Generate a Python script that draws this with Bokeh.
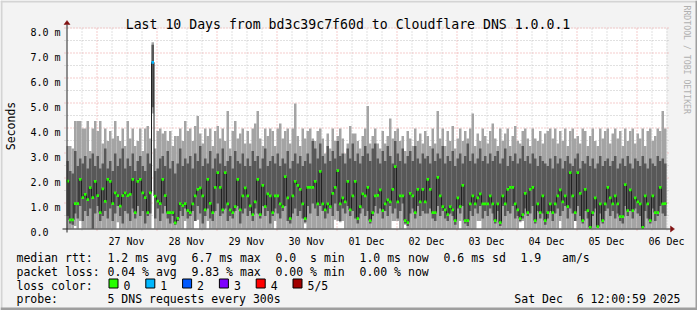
import math
from bokeh.plotting import figure
from bokeh.models import Range1d
from bokeh.core.properties import value
from bokeh.embed import file_html
from bokeh.resources import INLINE

# ---------------- data (hours since 26 Nov 12:00, 1 h steps) ----------------
median = [
    1.90, 0.35, 0.35, 1.00, 1.00, 1.97, 1.24, 1.37, 1.16, 1.64, 1.24, 1.89, 1.32, 0.64, 1.59, 1.09, 1.97, 1.89, 1.00, 1.43, 1.32, 0.90, 1.32, 1.43,
    1.32, 1.37, 1.97, 0.64, 1.89, 1.97, 1.43, 1.24, 0.64, 1.43, 6.65, 1.30, 1.10, 1.00, 1.97, 1.32, 0.64, 0.64, 0.64, 0.23, 0.41, 1.00, 0.92, 1.00,
    0.72, 0.64, 0.99, 1.31, 1.57, 1.63, 1.31, 0.75, 1.97, 1.01, 0.64, 1.65, 2.24, 1.65, 0.75, 2.24, 0.99, 0.75, 0.64, 0.88, 1.97, 0.75, 1.31, 1.63,
    1.31, 0.91, 0.56, 1.07, 1.97, 0.56, 1.73, 0.88, 1.39, 1.31, 0.64, 1.31, 1.31, 0.99, 0.88, 2.08, 1.23, 0.40, 1.31, 1.89, 1.73, 1.57, 0.99, 0.40,
    1.65, 1.65, 1.65, 1.89, 0.99, 2.29, 0.99, 0.75, 0.99, 0.88, 1.41, 1.65, 2.32, 0.99, 1.23, 1.07, 1.89, 0.75, 1.31, 1.89, 0.40, 0.88, 1.39, 1.31,
    1.65, 0.32, 0.64, 1.31, 1.33, 1.55, 0.72, 0.99, 1.15, 1.07, 1.57, 2.48, 1.07, 1.31, 1.31, 0.32, 0.24, 1.41, 1.31, 0.64, 1.57, 1.07, 1.57, 1.07,
    1.97, 1.57, 0.64, 0.64, 2.05, 1.31, 0.88, 0.75, 0.56, 0.88, 0.75, 0.32, 1.23, 0.88, 1.73, 0.32, 0.32, 0.99, 1.31, 0.99, 1.23, 1.39, 0.99, 0.99,
    0.99, 1.31, 0.99, 0.32, 0.99, 0.24, 1.31, 0.99, 1.57, 1.65, 1.65, 0.99, 0.75, 0.40, 0.56, 1.41, 0.64, 1.57, 1.65, 0.32, 0.99, 0.64, 1.31, 0.32,
    0.64, 0.99, 0.64, 0.99, 1.31, 1.55, 1.07, 1.31, 0.88, 2.24, 1.31, 0.64, 2.24, 1.41, 0.32, 1.57, 0.72, 0.05, 0.64, 1.23, 0.08, 0.99, 0.32, 0.99,
    1.65, 1.23, 0.99, 1.31, 0.99, 0.48, 0.48, 1.76, 0.72, 1.55, 0.72, 1.23, 1.07, 0.99, 0.05, 1.31, 0.99, 0.32, 1.31, 0.64, 0.64, 1.65, 0.99, 1.00,
]
ping5 = [
    3.3, 3.3, 3.2, 4.3, 4.3, 4.3, 4.0, 4.0, 4.3, 3.1, 4.0, 4.3, 3.9, 4.3, 3.4, 4.0, 3.5, 3.9, 3.6, 4.3, 3.7, 3.5, 4.0, 3.3,
    4.3, 3.6, 4.0, 3.3, 3.5, 4.0, 3.1, 4.0, 4.1, 3.6, 7.45, 3.2, 3.9, 4.0, 3.8, 3.9, 3.5, 3.9, 3.3, 3.7, 3.7, 4.0, 3.5, 4.3,
    3.9, 4.0, 3.5, 4.1, 4.5, 3.8, 3.4, 4.0, 3.7, 4.0, 3.3, 3.9, 4.1, 3.6, 4.0, 3.5, 4.7, 3.2, 3.9, 4.3, 3.6, 3.8, 4.0, 3.4,
    3.9, 3.4, 4.0, 4.2, 4.7, 3.6, 3.3, 4.0, 3.7, 4.0, 3.9, 3.3, 4.0, 4.2, 3.6, 3.9, 4.0, 3.4, 4.0, 5.0, 3.7, 3.3, 4.0, 3.6,
    3.9, 4.0, 3.6, 3.5, 3.9, 4.0, 3.6, 3.0, 3.8, 3.2, 4.0, 3.5, 3.7, 4.0, 3.6, 3.0, 3.4, 4.1, 3.8, 3.8, 3.5, 3.2, 3.7, 4.0,
    4.9, 3.4, 3.7, 4.0, 3.4, 3.2, 3.9, 3.4, 3.7, 4.4, 3.6, 3.9, 4.0, 3.5, 3.7, 3.1, 3.9, 3.6, 3.3, 4.0, 3.5, 3.8, 3.4, 3.9,
    3.7, 3.3, 4.0, 3.4, 4.7, 3.6, 4.0, 3.3, 3.9, 3.5, 4.1, 3.2, 3.6, 4.0, 3.5, 3.9, 3.6, 4.0, 4.6, 3.3, 3.8, 3.5, 4.0, 3.7,
    3.4, 3.9, 4.2, 3.6, 3.3, 4.0, 3.5, 3.8, 4.0, 3.3, 3.7, 4.1, 3.5, 3.4, 3.9, 4.0, 3.6, 3.3, 4.0, 3.6, 3.5, 3.9, 3.4, 3.8,
    3.9, 4.0, 3.6, 4.0, 3.4, 3.9, 3.5, 4.0, 3.3, 3.9, 4.0, 3.6, 3.7, 3.4, 4.0, 3.9, 3.3, 3.7, 4.0, 3.5, 3.3, 4.0, 3.6, 3.9,
    4.0, 3.4, 3.8, 4.0, 3.6, 3.9, 3.3, 4.0, 3.5, 3.9, 4.0, 3.4, 3.8, 3.6, 4.0, 3.3, 3.9, 4.0, 3.5, 3.7, 4.0, 3.9, 4.7, 4.0,
]
ping4 = [
    2.7, 2.3, 2.2, 3.1, 2.5, 2.8, 2.6, 2.9, 2.4, 2.8, 3.0, 2.5, 2.9, 2.4, 2.6, 3.2, 2.4, 2.7, 2.3, 3.0, 2.5, 2.8, 3.2, 2.4,
    2.8, 2.5, 3.0, 2.3, 2.7, 2.9, 2.5, 2.3, 3.0, 2.6, 7.35, 2.3, 2.4, 2.8, 2.9, 2.5, 3.1, 2.4, 2.7, 2.2, 2.6, 3.2, 2.5, 2.8,
    2.6, 2.9, 2.4, 3.0, 2.7, 3.3, 2.5, 2.8, 2.6, 3.1, 2.4, 2.8, 3.0, 2.6, 3.2, 2.5, 2.7, 2.9, 2.4, 3.1, 2.7, 2.6, 3.0, 2.5,
    2.8, 2.5, 3.1, 2.7, 2.9, 2.4, 2.8, 3.2, 2.5, 2.7, 2.9, 2.6, 3.0, 2.5, 2.8, 2.6, 3.1, 2.4, 2.7, 3.0, 2.6, 2.9, 2.5, 2.7,
    3.0, 2.6, 3.5, 3.2, 2.8, 3.4, 2.9, 2.6, 3.3, 2.7, 3.1, 2.8, 3.5, 2.9, 3.0, 2.6, 3.2, 2.8, 3.4, 2.7, 3.0, 2.6, 2.9, 3.3,
    3.0, 2.7, 3.2, 3.4, 2.8, 2.6, 3.1, 2.7, 3.3, 2.9, 2.6, 3.5, 3.0, 2.7, 3.2, 2.6, 2.9, 3.1, 2.7, 3.3, 2.8, 2.6, 3.0, 2.8,
    2.9, 2.6, 3.2, 2.7, 3.0, 2.8, 3.3, 2.6, 2.9, 2.7, 3.1, 2.5, 2.8, 3.0, 2.6, 2.9, 3.4, 2.7, 3.0, 2.6, 2.8, 3.2, 2.7, 2.9,
    2.6, 3.0, 2.7, 2.9, 3.1, 2.6, 2.8, 3.2, 2.5, 2.9, 2.7, 3.0, 2.6, 2.8, 3.3, 2.7, 2.9, 2.6, 3.0, 2.8, 2.5, 2.9, 2.7, 2.6,
    2.5, 2.8, 2.4, 2.9, 2.6, 2.8, 2.4, 2.7, 2.9, 2.6, 2.5, 2.8, 3.0, 2.4, 2.7, 2.6, 2.9, 2.5, 2.8, 2.4, 2.6, 2.9, 2.5, 2.7,
    2.8, 2.5, 2.7, 2.9, 2.4, 2.6, 2.8, 2.5, 2.9, 2.6, 2.4, 2.8, 2.7, 2.5, 2.9, 2.6, 2.4, 2.8, 2.6, 2.5, 2.9, 2.7, 2.8, 2.6,
]
ping2 = [
    0.5, 0.2, 0.15, 0.6, 0.4, 0.9, 0.3, 0.7, 0.5, 0.8, 0.0, 0.6, 0.9, 0.3, 0.5, 0.7, 0.4, 0.8, 0.3, 0.6, 0.9, 0.5, 0.2, 0.7,
    0.6, 0.3, 0.8, 0.4, 0.9, 0.5, 0.7, 0.2, 0.5, 0.6, 4.85, 0.4, 0.8, 0.3, 0.6, 0.9, 0.4, 0.2, 0.5, 0.15, 0.3, 0.7, 0.5, 0.8,
    0.4, 0.5, 0.7, 0.3, 0.9, 0.6, 0.2, 0.5, 0.8, 0.4, 0.3, 0.7, 1.0, 0.5, 0.6, 0.8, 0.3, 0.5, 0.4, 0.7, 0.9, 0.2, 0.6, 0.8,
    0.5, 0.7, 0.3, 0.8, 0.6, 0.4, 0.9, 0.5, 0.7, 0.2, 0.5, 0.8, 0.6, 0.4, 0.7, 0.9, 0.3, 0.2, 0.6, 0.8, 0.5, 0.7, 0.4, 0.25,
    0.9, 0.6, 1.0, 0.8, 0.5, 0.9, 0.7, 0.4, 0.6, 0.8, 0.5, 1.0, 0.7, 0.3, 0.8, 0.6, 0.9, 0.5, 0.7, 0.4, 0.2, 0.6, 0.8, 0.5,
    0.7, 0.2, 0.5, 0.9, 0.6, 0.8, 0.4, 0.7, 0.5, 0.9, 0.6, 0.8, 0.4, 0.7, 1.0, 0.2, 0.1, 0.6, 0.8, 0.4, 0.9, 0.5, 0.7, 0.6,
    0.6, 0.8, 0.4, 0.3, 0.9, 0.5, 0.7, 0.4, 0.3, 0.6, 0.5, 0.15, 0.8, 0.6, 0.9, 0.2, 0.1, 0.7, 0.5, 0.8, 0.6, 0.9, 0.4, 0.7,
    0.5, 0.8, 0.6, 0.2, 0.7, 0.1, 0.9, 0.5, 0.7, 0.6, 0.9, 0.4, 0.5, 0.3, 0.4, 0.8, 0.5, 0.6, 0.9, 0.2, 0.7, 0.4, 0.6, 0.15,
    0.4, 0.7, 0.3, 0.6, 0.8, 0.5, 0.7, 0.9, 0.4, 0.8, 0.6, 0.3, 0.9, 0.5, 0.2, 0.7, 0.4, 0.03, 0.5, 0.8, 0.05, 0.6, 0.2, 0.7,
    0.8, 0.5, 0.7, 0.4, 0.6, 0.3, 0.2, 0.9, 0.5, 0.7, 0.4, 0.8, 0.6, 0.5, 0.03, 0.7, 0.4, 0.2, 0.8, 0.3, 0.5, 0.9, 0.6, 0.5,
]
ping1 = [
    0, 0, 0, 0.1, 0, 0.3, 0, 0, 0, 0, 0, 0, 0, 0, 0, 0, 0, 0, 0, 0, 0.25, 0, 0, 0,
    0, 0, 0, 0, 0, 0, 0, 0, 0, 0, 4.6, 0, 0, 0, 0, 0, 0, 0, 0, 0, 0, 0, 0, 0.3,
    0, 0, 0, 0.3, 0.35, 0, 0, 0, 0.3, 0, 0, 0, 0, 0, 0, 0, 0, 0, 0, 0, 0, 0, 0, 0,
    0, 0, 0, 0, 0, 0, 0, 0, 0, 0, 0, 0.3, 0, 0, 0, 0, 0, 0, 0, 0, 0, 0, 0, 0.2,
    0, 0, 0, 0, 0, 0, 0, 0, 0, 0, 0, 0.35, 0.3, 0.25, 0.3, 0, 0, 0, 0, 0, 0, 0, 0, 0,
    0, 0, 0, 0, 0, 0, 0, 0, 0, 0, 0.3, 0.3, 0.3, 0, 0, 0.15, 0, 0, 0, 0, 0, 0, 0, 0,
    0, 0, 0, 0, 0, 0, 0, 0, 0, 0, 0, 0, 0, 0.3, 0, 0, 0, 0, 0, 0, 0.3, 0.3, 0, 0,
    0, 0, 0, 0, 0, 0, 0, 0, 0, 0, 0, 0, 0, 0.25, 0.3, 0, 0, 0, 0, 0, 0, 0, 0, 0,
    0, 0, 0, 0, 0, 0.3, 0, 0, 0, 0, 0, 0.3, 0, 0, 0, 0, 0, 0, 0, 0, 0, 0, 0, 0,
    0, 0, 0, 0, 0, 0, 0, 0, 0, 0, 0, 0, 0, 0, 0, 0, 0, 0, 0, 0, 0, 0, 0, 0,
]
loss = [0] * 34 + [1] + [0] * 205   # lost pings per hour (of 5)

loss_colors = ["#26ff00", "#00b8ff", "#0059ff", "#7e00ff", "#ff0000", "#a10000"]
loss_names = ["0", "1", "2", "3", "4", "5/5"]

y_ticks = [0, 1, 2, 3, 4, 5, 6, 7, 8]
y_labels = ["0.0\u00a0\u00a0", "1.0 m", "2.0 m", "3.0 m", "4.0 m", "5.0 m", "6.0 m", "7.0 m", "8.0 m"]
y_minor = [0.5, 1.5, 2.5, 3.5, 4.5, 5.5, 6.5, 7.5]
day_ticks = [24, 48, 72, 96, 120, 144, 168, 192, 216, 240]
day_labels = ["27 Nov", "28 Nov", "29 Nov", "30 Nov", "01 Dec", "02 Dec", "03 Dec", "04 Dec", "05 Dec", "06 Dec"]
midnights = [12, 36, 60, 84, 108, 132, 156, 180, 204, 228]
six_hours = [6, 18, 24, 30, 42, 48, 54, 66, 72, 78, 90, 96, 102, 114, 120, 126, 138, 144, 150,
             162, 168, 174, 186, 192, 198, 210, 216, 222, 234, 240]

legend_rows = [
    ["median rtt:", "1.2 ms avg", "6.7 ms max", "0.0\u00a0\u00a0s min", "1.0 ms now", "0.6 ms sd", "1.9\u00a0\u00a0\u00a0am/s"],
    ["packet loss:", "0.04 % avg", "9.83 % max", "0.00 % min", "0.00 % now"],
]
probe_text = "5 DNS requests every 300s"
stamp_text = "Sat Dec\u00a0\u00a06 12:00:59 2025"
title_text = "Last 10 Days from bd3c39c7f60d to Cloudflare DNS 1.0.0.1"

# ---------------- layout (pixels) ----------------
FONT = "DejaVu Sans Mono"
W, H = 697, 310
FL, FR, FT, FB = 66, 666, 28, 228
HOURS, VMAX = 240.0, 8.0

def X(px):
    return (px - FL) * HOURS / (FR - FL)

def Y(py):
    return (FB - py) * VMAX / (FB - FT)

DX = X(FL + 0.5) - X(FL)     # half pixel in data units
DY = Y(FB - 0.5) - Y(FB)

p = figure(width=W, height=H, x_range=Range1d(X(0), X(W)), y_range=Range1d(Y(H), Y(0)),
           output_backend="svg", toolbar_location=None, title=None,
           x_axis_location=None, y_axis_location=None,
           min_border=0, background_fill_color="#f3f3f3", border_fill_color="#f3f3f3",
           outline_line_color=None)
p.grid.visible = False

# canvas
p.quad(left=[0], right=[HOURS], bottom=[0], top=[VMAX], fill_color="white", line_color=None)

# grid (minor then major), extended 2px beyond the canvas like rrdtool
MINOR, MAJOR = "#c2c2c2", "#eb9a9a"
p.segment(x0=[h + DX for h in six_hours], x1=[h + DX for h in six_hours],
          y0=Y(FB + 2), y1=Y(FT - 2), line_color=MINOR, line_width=1, line_dash="1 2")
p.segment(x0=X(FL - 2), x1=X(FR + 2), y0=[v + DY for v in y_minor], y1=[v + DY for v in y_minor],
          line_color=MINOR, line_width=1, line_dash="1 2")
p.segment(x0=[h + DX for h in midnights], x1=[h + DX for h in midnights],
          y0=Y(FB + 2), y1=Y(FT - 2), line_color=MAJOR, line_width=1, line_dash="1 2")
p.segment(x0=X(FL - 2), x1=X(FR + 2), y0=[v + DY for v in y_ticks[1:]], y1=[v + DY for v in y_ticks[1:]],
          line_color=MAJOR, line_width=1, line_dash="1 2")

# smoke
hours = list(range(240))
right = [h + 1 for h in hours]
p.quad(left=hours, right=right, bottom=ping1, top=ping5, fill_color="#a4a4a4", line_color=None)
p.quad(left=hours, right=right, bottom=ping2, top=ping4, fill_color="#585858", line_color=None)

# median line + loss coloured marks
edges = list(range(241))
p.step(x=edges, y=median + [median[-1]], mode="after", line_color="#202020", line_width=1)
half = 0.055
p.quad(left=hours, right=right,
       bottom=[m - half for m in median], top=[m + half for m in median],
       fill_color=[loss_colors[l] for l in loss], line_color=None)

# axes with arrow heads
p.segment(x0=[X(FL + 0.5)], x1=[X(FL + 0.5)], y0=[Y(FB + 4)], y1=[Y(FT - 4)], line_color="#202020", line_width=1)
p.segment(x0=[X(FL - 4)], x1=[X(FR + 4)], y0=[Y(FB + 0.5)], y1=[Y(FB + 0.5)], line_color="#202020", line_width=1)
p.patch(x=[X(FL - 2.5), X(FL + 3.5), X(FL + 0.5)], y=[Y(FT - 4), Y(FT - 4), Y(FT - 8)],
        fill_color="#801010", line_color="#801010", line_width=0.5)
p.patch(x=[X(FR + 4), X(FR + 4), X(FR + 8)], y=[Y(FB - 2.5), Y(FB + 3.5), Y(FB + 0.5)],
        fill_color="#801010", line_color="#801010", line_width=0.5)

# axis tick labels
p.text(x=[X(60)] * len(y_ticks), y=[v - 3.7 * (VMAX / (FB - FT)) for v in y_ticks], text=y_labels,
       text_font=value(FONT), text_font_size="10px", text_align="right", text_baseline="alphabetic",
       text_color="black")
p.text(x=day_ticks, y=[Y(241)] * len(day_ticks), text=day_labels,
       text_font=value(FONT), text_font_size="10px", text_align="center", text_baseline="alphabetic",
       text_color="black")

# 3-D frame
def rect(l, r, t, b, color, line=None):
    p.quad(left=[X(l)], right=[X(r)], top=[Y(t)], bottom=[Y(b)], fill_color=color,
           line_color=line, line_width=1)

rect(0, W, 0, 2, "#d4d4d4")
rect(0, 2, 0, H, "#d4d4d4")
rect(W - 2, W, 0, H, "#9e9e9e")
rect(0, W, H - 3, H, "#9e9e9e")

def txt(px, py, s, size="11.5px", align="left", baseline="alphabetic", angle=0.0, color="black"):
    p.text(x=[X(px)], y=[Y(py)], text=[s], text_font=value(FONT), text_font_size=size,
           text_align=align, text_baseline=baseline, angle=angle, text_color=color)

txt(347.5, 24, title_text, size="13.2px", align="center")
txt(10.5, 125.5, "Seconds", size="11.5px", align="center", baseline="middle", angle=math.pi / 2)
txt(686, 5, "RRDTOOL / TOBI OETIKER", size="8.2px", align="left", baseline="middle",
    angle=-math.pi / 2, color="#b0b0b0")

row_y = [257.7, 271.4, 285.1, 298.8]
cols = [16, 107, 191, 275, 359, 443, 520]
for r, items in enumerate(legend_rows):
    for c, s in enumerate(items):
        txt(cols[c], row_y[r], s)

txt(16, row_y[2], "loss color:")
for i, (c, n) in enumerate(zip(loss_colors, loss_names)):
    bx = 108.5 + i * 36.8
    rect(bx, bx + 9, 278.5, 287.5, c, line="black")
    txt(bx + 14.5, row_y[2], n)

txt(16, row_y[3], "probe:")
txt(107, row_y[3], probe_text)
txt(680, row_y[3], stamp_text, align="right")

open("out.html", "w").write(file_html(p, INLINE))
